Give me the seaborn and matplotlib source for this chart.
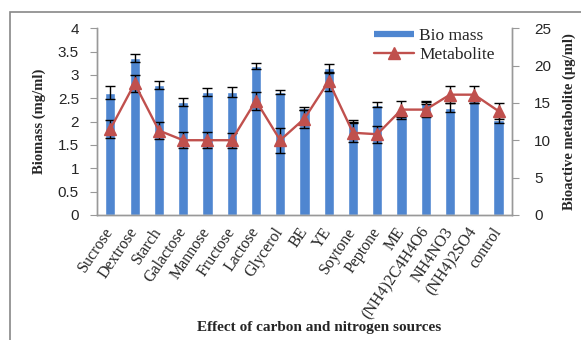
import numpy as np
import pandas as pd
import matplotlib
matplotlib.use('Agg')
import matplotlib.pyplot as plt
import seaborn as sns
from matplotlib.patches import Rectangle
from matplotlib.lines import Line2D

sources = ['Sucrose', 'Dextrose', 'Starch', 'Galactose', 'Mannose', 'Fructose',
           'Lactose', 'Glycerol', 'BE', 'YE', 'Soytone', 'Peptone', 'ME',
           '(NH4)2C4H4O6', 'NH4NO3', '(NH4)2SO4', 'control']
biomass = [2.62, 3.36, 2.78, 2.42, 2.63, 2.64, 3.19, 2.64, 2.28, 3.14,
           2.01, 2.36, 2.14, 2.40, 2.30, 2.43, 2.03]
biomass_err = [0.14, 0.09, 0.09, 0.08, 0.08, 0.11, 0.06, 0.04, 0.04, 0.09,
               0.03, 0.05, 0.05, 0.03, 0.09, 0.04, 0.06]
metabolite = [11.5, 17.6, 11.3, 10.0, 10.0, 10.0, 15.3, 10.0, 12.9, 17.9,
              11.0, 10.8, 14.1, 14.1, 16.1, 16.1, 13.9]
metabolite_err = [1.2, 1.1, 1.2, 1.1, 1.05, 1.0, 1.2, 1.7, 1.2, 1.25,
                  1.25, 1.15, 1.2, 1.05, 1.1, 1.1, 1.1]

df = pd.DataFrame({'source': sources, 'biomass': biomass})

BLUE = '#4F86D0'
RED = '#C0504D'

sns.set_style('white')
serif = ['Liberation Serif', 'DejaVu Serif']
sans = ['Liberation Sans', 'DejaVu Sans']

fig, ax = plt.subplots(figsize=(5.81, 3.40), dpi=100)
fig.subplots_adjust(left=0.167, right=0.881, top=0.917, bottom=0.368)

# bars (biomass)
sns.barplot(data=df, x='source', y='biomass', color=BLUE, width=0.42,
            saturation=1, ax=ax, zorder=2)
x = np.arange(len(sources))
ax.errorbar(x, biomass, yerr=biomass_err, fmt='none', ecolor='black',
            elinewidth=1, capsize=3.5, capthick=1, zorder=3)

ax.set_ylim(0, 4)
ax.set_yticks(np.arange(0, 4.01, 0.5))
ax.set_yticklabels(['0', '0.5', '1', '1.5', '2', '2.5', '3', '3.5', '4'],
                   fontsize=11, family=sans)
ax.set_xlim(-0.55, len(sources) - 0.45)
ax.set_xticks(x)
ax.set_xticklabels(sources, rotation=56, ha='right', va='center',
                   rotation_mode='anchor', fontsize=11.5, family=serif)
ax.tick_params(axis='x', length=0, pad=10)
ax.tick_params(axis='y', direction='out', length=5, color='#999999', left=True, pad=8)
ax.set_ylabel('Biomass (mg/ml)', fontsize=10.5, fontweight='bold', family=serif)
ax.yaxis.set_label_coords(-0.122, 0.5)
ax.set_xlabel('Effect of carbon and nitrogen sources', fontsize=11,
              fontweight='bold', family=serif, va='center')
ax.xaxis.set_label_coords(0.535, -0.605)

# metabolite line on secondary axis
ax2 = ax.twinx()
ax2.errorbar(x, metabolite, yerr=metabolite_err, fmt='none', ecolor='black',
             elinewidth=1, capsize=3.5, capthick=1, zorder=3)
ax2.plot(x, metabolite, color=RED, linewidth=1.7, marker='^',
         markersize=8, zorder=4)
ax2.set_ylim(0, 25)
ax2.set_yticks(np.arange(0, 26, 5))
ax2.set_yticklabels([str(v) for v in range(0, 26, 5)], fontsize=11, family=sans)
ax2.tick_params(axis='y', direction='out', length=5, color='#999999', right=True, pad=11)
ax2.set_ylabel('Bioactive metabolite (µg/ml)', fontsize=10.5, fontweight='bold',
               family=serif)
ax2.yaxis.set_label_coords(1.123, 0.5)

for a in (ax, ax2):
    a.spines['top'].set_visible(False)
    for s in ('left', 'right', 'bottom'):
        a.spines[s].set_color('#999999')
        a.spines[s].set_linewidth(1)
    a.grid(False)

# legend
handles = [Line2D([0], [0], color=BLUE, lw=4.5, solid_capstyle='butt', label='Bio mass'),
           Line2D([0], [0], color=RED, lw=1.7, marker='^', markersize=8,
                  label='Metabolite')]
ax2.legend(handles=handles, loc='upper right', bbox_to_anchor=(0.975, 1.04),
           frameon=False, prop={'family': serif, 'size': 12.5},
           handlelength=2.3, handletextpad=0.3, labelspacing=0.2, borderaxespad=0)

# outer chart border
fig.patches.append(Rectangle((0.017, -0.1), 1.2, 1.065, transform=fig.transFigure,
                             fill=False, edgecolor='#888888', linewidth=1.2))

fig.savefig('out.png', dpi=100)
